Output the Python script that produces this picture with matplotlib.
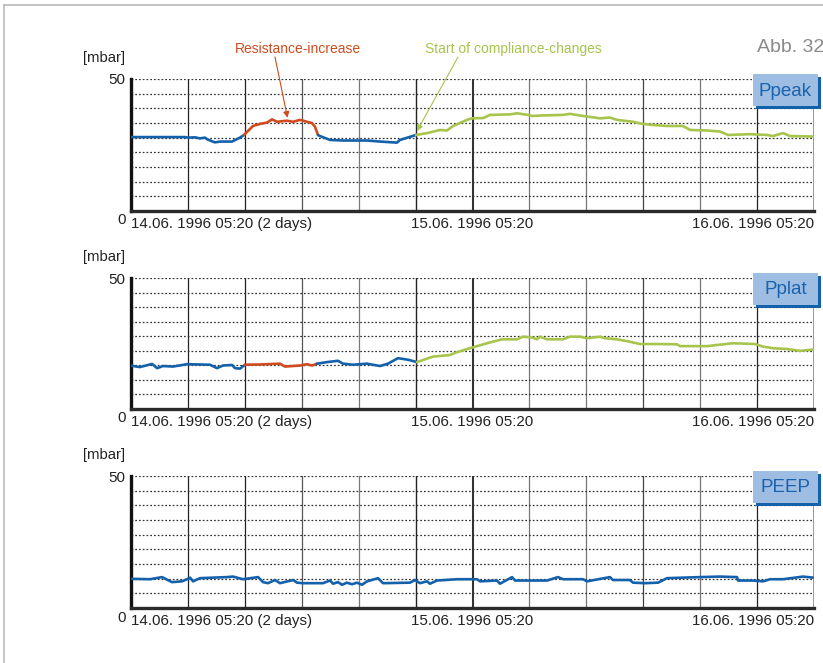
import matplotlib
matplotlib.use("Agg")
import matplotlib.pyplot as plt
import matplotlib.transforms as mtransforms
from matplotlib.patches import Rectangle
from matplotlib.lines import Line2D
import numpy as np

plt.rcParams['font.family'] = ['Liberation Sans', 'DejaVu Sans']

# ---------------- data (hours since 14.06.1996 05:20, mbar) ----------------
x_ticks = [0, 24, 48]
x_ticklabels = ["14.06. 1996 05:20 (2 days)", "15.06. 1996 05:20", "16.06. 1996 05:20"]
y_ticks = [0, 50]
y_ticklabels = ["0", "50"]
panel_names = ["Ppeak", "Pplat", "PEEP"]

# Ppeak
ppeak_b1_t = [0.00, 3.80, 4.01, 4.50, 4.85, 5.20, 5.34, 5.69, 5.90, 6.25, 7.10, 7.66, 7.94]
ppeak_b1_v = [28.0, 28.0, 27.8, 27.9, 27.5, 27.8, 27.2, 26.4, 26.0, 26.3, 26.3, 27.8, 28.8]
ppeak_o_t = [7.94, 8.57, 9.07, 9.56, 9.91, 10.26, 10.96, 11.38, 11.88, 12.72, 12.93, 13.14]
ppeak_o_v = [28.8, 32.2, 33.0, 33.5, 34.7, 33.8, 34.2, 33.8, 34.5, 33.3, 31.9, 28.8]
ppeak_b2_t = [13.14, 13.28, 13.99, 14.90, 16.59, 17.50, 18.69, 18.90, 20.03]
ppeak_b2_v = [28.8, 28.4, 26.9, 26.7, 26.7, 26.3, 25.9, 26.9, 28.8]
ppeak_g_t = [20.03, 20.80, 21.72, 22.21, 22.63, 23.61, 23.96, 24.74, 25.23, 26.64, 27.13, 27.90,
             28.18, 28.95, 30.36, 30.85, 31.77, 32.96, 33.66, 34.16, 35.28, 35.91, 36.68, 37.67,
             38.79, 39.29, 40.48, 41.39, 41.96, 43.50, 44.70, 45.12, 45.82, 46.31, 48.00]
ppeak_g_v = [28.8, 29.5, 30.7, 30.5, 32.2, 34.5, 35.1, 35.2, 36.4, 36.6, 37.0, 36.4,
             36.0, 36.2, 36.4, 36.8, 36.0, 35.1, 35.4, 34.5, 33.8, 33.0, 32.6, 32.2,
             32.2, 30.7, 30.5, 30.1, 28.8, 29.1, 28.8, 28.4, 29.5, 28.4, 28.2]

# Pplat
pplat_b1_t = [0.05, 0.63, 1.48, 1.83, 2.25, 2.95, 3.94, 5.55, 6.04, 6.47, 7.10, 7.31, 7.66, 8.01]
pplat_b1_v = [16.5, 16.0, 17.2, 15.6, 16.4, 16.2, 17.1, 16.9, 15.6, 16.6, 16.8, 15.6, 15.4, 16.9]
pplat_o_t = [8.01, 9.07, 10.47, 10.82, 11.88, 12.37, 12.72, 13.07]
pplat_o_v = [16.9, 17.0, 17.3, 16.2, 16.6, 17.1, 16.6, 17.3]
pplat_b2_t = [13.07, 13.77, 14.55, 14.90, 15.60, 16.59, 17.50, 18.06, 18.76, 19.47, 20.10]
pplat_b2_v = [17.3, 17.9, 18.4, 17.3, 16.9, 17.3, 16.4, 17.3, 19.4, 18.8, 17.9]
pplat_g_t = [20.10, 21.22, 22.42, 22.91, 23.82, 25.02, 26.07, 27.13, 27.55, 28.18, 28.53, 28.74,
             29.24, 30.36, 30.85, 31.56, 32.05, 32.96, 33.31, 34.16, 34.86, 35.77, 36.97, 38.37,
             38.58, 40.48, 42.31, 43.85, 44.42, 45.12, 46.10, 47.02, 47.93]
pplat_g_v = [17.9, 20.0, 20.6, 21.7, 23.2, 25.1, 26.6, 26.6, 27.6, 27.3, 26.6, 27.6,
             26.6, 26.6, 27.6, 27.6, 27.0, 27.6, 27.0, 26.6, 25.9, 24.8, 24.8, 24.7,
             24.0, 24.0, 25.1, 24.8, 23.8, 23.2, 22.9, 22.2, 22.7]

# PEEP
peep_t = [0.07, 1.34, 2.18, 2.88, 3.58, 3.94, 4.15, 4.36, 4.85, 6.75, 7.17, 7.87, 8.93, 9.28,
          9.63, 10.12, 10.47, 11.39, 11.67, 12.09, 13.49, 13.99, 14.20, 14.55, 14.83, 15.18,
          15.53, 15.88, 16.23, 16.59, 17.36, 17.71, 19.61, 19.96, 20.31, 20.80, 21.01, 21.50,
          22.91, 24.32, 24.53, 25.72, 25.93, 26.78, 26.99, 29.24, 30.01, 30.36, 31.77, 32.05,
          33.66, 33.87, 35.07, 35.28, 36.12, 37.04, 37.67, 39.99, 41.39, 42.59, 42.66, 43.71,
          44.42, 44.91, 45.82, 47.23, 47.93]
peep_v = [11.05, 10.9, 11.7, 9.8, 10.1, 10.9, 11.5, 10.1, 11.3, 11.7, 11.9, 10.9, 11.7, 9.8,
          9.4, 10.6, 9.4, 10.6, 9.6, 9.4, 9.4, 10.4, 9.2, 9.8, 8.8, 9.6,
          9.0, 9.6, 8.8, 10.1, 11.3, 9.4, 9.6, 10.6, 9.4, 10.1, 9.2, 10.4,
          10.9, 10.9, 10.1, 10.4, 9.2, 11.7, 10.4, 10.4, 11.7, 10.9, 10.9, 10.1,
          11.7, 10.6, 10.6, 9.6, 9.4, 9.6, 11.3, 11.7, 11.9, 11.7, 10.4, 10.4,
          10.1, 10.9, 10.9, 11.9, 11.5]

# annotation targets (hours, mbar)
resist_target = (11.0, 35.3)
compl_target = (20.1, 30.3)

# ---------------- style ----------------
BLUE = "#1461ab"
ORANGE = "#cf4b1d"
GREEN = "#a7c44c"
BOX = "#9dbde3"
BOXTXT = "#1a62ad"

W, H = 823, 663
fig = plt.figure(figsize=(W / 100, H / 100), dpi=100)
fig.patch.set_facecolor("white")

def fx(px):
    return px / W

def fy(py):
    return 1 - py / H

ax_left, ax_right = 131, 814
panel_tops = [79, 278, 476]
panel_bottoms = [211, 409, 608]

vgrid_hours = list(range(4, 49, 4))
vgrid_colors = ["#222222", "#222222", "#555555", "#777777", "#222222", "#333333",
                "#777777", "#777777", "#444444", "#777777", "#222222", "#888888"]
vgrid_widths = [0.9, 0.9, 0.9, 0.9, 1.0, 1.5, 0.9, 0.9, 0.9, 0.9, 0.9, 1.2]

series = [
    [(ppeak_b1_t, ppeak_b1_v, BLUE), (ppeak_o_t, ppeak_o_v, ORANGE),
     (ppeak_b2_t, ppeak_b2_v, BLUE), (ppeak_g_t, ppeak_g_v, GREEN)],
    [(pplat_b1_t, pplat_b1_v, BLUE), (pplat_o_t, pplat_o_v, ORANGE),
     (pplat_b2_t, pplat_b2_v, BLUE), (pplat_g_t, pplat_g_v, GREEN)],
    [(peep_t, peep_v, BLUE)],
]

axes = []
for i in range(3):
    top, bot = panel_tops[i], panel_bottoms[i]
    ax = fig.add_axes([fx(ax_left), fy(bot), fx(ax_right - ax_left), (bot - top) / H])
    axes.append(ax)
    ax.set_xlim(0, 48)
    ax.set_ylim(0, 50)
    for h, c, lw in zip(vgrid_hours, vgrid_colors, vgrid_widths):
        ax.axvline(h, color=c, lw=lw, zorder=1)
    for yv in np.linspace(0, 50, 10)[1:]:
        ax.axhline(yv, color="#333333", lw=0.9, linestyle=(0, (1.4, 1.6)), zorder=1)
    for t, v, c in series[i]:
        ax.plot(t, v, color=c, lw=1.9, solid_joinstyle="round", solid_capstyle="round", zorder=3)
    for s in ("top", "right"):
        ax.spines[s].set_visible(False)
    ax.spines["left"].set_linewidth(2.4)
    ax.spines["left"].set_color("#111111")
    ax.spines["bottom"].set_linewidth(2.4)
    ax.spines["bottom"].set_color("#2a2a2a")
    ax.set_xticks(x_ticks)
    ax.set_xticklabels(x_ticklabels, fontsize=10.9, color="#222222")
    ax.set_yticks(y_ticks)
    ax.set_yticklabels(y_ticklabels, fontsize=10.9, color="#222222")
    ax.tick_params(length=0, pad=4)
    xl = ax.get_xticklabels()
    xl[0].set_ha("left")
    xl[1].set_ha("center")
    xl[2].set_ha("right")
    yl = ax.get_yticklabels()
    off = mtransforms.ScaledTranslation(0, -8 / 100, fig.dpi_scale_trans)
    yl[0].set_transform(yl[0].get_transform() + off)
    # unit label
    fig.text(fx(83), fy(top - 21), "[mbar]", fontsize=10.7, color="#222222", ha="left", va="center")
    # name box with shadow
    bx0, bx1 = 753, 818
    by0, by1 = top - 5, top + 27
    fig.add_artist(Rectangle((fx(bx0 + 3), fy(by1 + 3)), fx(bx1 - bx0), (by1 - by0) / H,
                             facecolor=BLUE, edgecolor="none", zorder=5))
    fig.add_artist(Rectangle((fx(bx0), fy(by1)), fx(bx1 - bx0), (by1 - by0) / H,
                             facecolor=BOX, edgecolor="none", zorder=6))
    fig.text(fx((bx0 + bx1) / 2), fy((by0 + by1) / 2 + 1), panel_names[i], fontsize=13.5,
             color=BOXTXT, ha="center", va="center", zorder=7)

# annotations
ax0 = axes[0]
fig.text(fx(298), fy(49), "Resistance-increase", color=ORANGE, fontsize=10, ha="center", va="center")
ax0.annotate("", xy=resist_target, xycoords="data", xytext=(275, H - 57), textcoords="figure pixels",
             arrowprops=dict(arrowstyle="-|>", color=ORANGE, lw=0.8, mutation_scale=9,
                             shrinkA=0, shrinkB=0), zorder=8, annotation_clip=False)
fig.text(fx(513), fy(49), "Start of compliance-changes", color=GREEN, fontsize=10, ha="center", va="center")
ax0.annotate("", xy=compl_target, xycoords="data", xytext=(458, H - 57), textcoords="figure pixels",
             arrowprops=dict(arrowstyle="-|>", color=GREEN, lw=0.8, mutation_scale=9,
                             shrinkA=0, shrinkB=0), zorder=8, annotation_clip=False)

fig.text(fx(757), fy(48), "Abb. 32", color="#8a8a8a", fontsize=14, ha="left", va="center")

# outer frame
fig.add_artist(Line2D([fx(3.5), fx(3.5)], [fy(5), 0], color="#bbbbbb", lw=1.2))
fig.add_artist(Line2D([fx(3.5), 1], [fy(5), fy(5)], color="#bbbbbb", lw=1.2))

fig.savefig("out.png", dpi=100)
